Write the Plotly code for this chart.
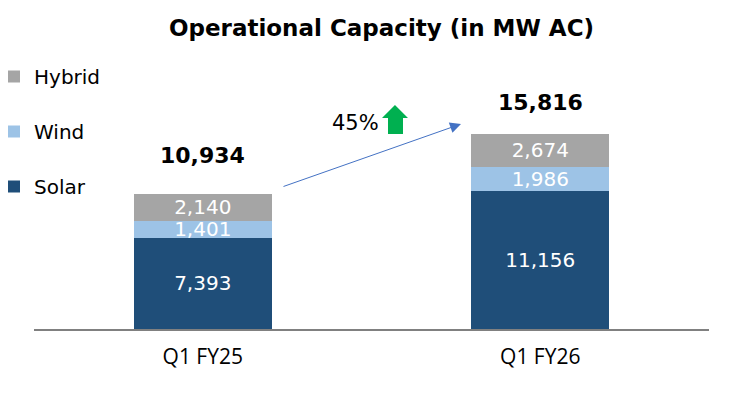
import plotly.graph_objects as go

# ---- data ----
categories = ["Q1 FY25", "Q1 FY26"]
solar = [7393, 11156]
wind = [1401, 1986]
hybrid = [2140, 2674]
totals = [10934, 15816]
growth_label = "45%"

# ---- layout geometry ----
W, H = 739, 397
ML, MR, MT, MB = 34, 30, 40, 68
PLOT_W = W - ML - MR
PLOT_H = H - MT - MB
Y_MAX = 23440

SOLAR_C = "#1F4E79"
WIND_C = "#9DC3E6"
HYBRID_C = "#A5A5A5"
ARROW_C = "#4472C4"
GREEN_C = "#00B050"
BASE_FONT = "DejaVu Sans"


def to_paper(px, py):
    return (px - ML) / PLOT_W, (H - MB - py) / PLOT_H


def fmt(v):
    return f"{v:,}"


fig = go.Figure()
series = [("Solar", solar, SOLAR_C, 3), ("Wind", wind, WIND_C, 2), ("Hybrid", hybrid, HYBRID_C, 1)]
for name, vals, col, rank in series:
    fig.add_trace(go.Bar(
        name=name, x=categories, y=vals, marker=dict(color=col, line=dict(width=0)),
        width=0.41, text=[fmt(v) for v in vals], textposition="inside",
        insidetextanchor="middle", textangle=0, constraintext="none",
        textfont=dict(family=BASE_FONT, size=20, color="white"),
        legendgroup=name, legendrank=rank, hoverinfo="skip",
    ))

annotations = []
# totals above bars
for cat, tot, ys in zip(categories, totals, [39, 32]):
    annotations.append(dict(
        x=cat, y=tot, xref="x", yref="y", text=f"<b>{fmt(tot)}</b>", showarrow=False,
        yanchor="middle", yshift=ys, font=dict(family=BASE_FONT, size=22, color="black"),
    ))

# growth arrow
tip_x, tip_y = to_paper(461, 124)
annotations.append(dict(
    x=tip_x, y=tip_y, xref="paper", yref="paper", ax=-179, ay=63,
    axref="pixel", ayref="pixel", showarrow=True, arrowhead=2, arrowsize=2.2,
    arrowwidth=1, arrowcolor=ARROW_C, text="",
))
# growth label
lx, ly = to_paper(381, 123)
annotations.append(dict(
    x=lx, y=ly, xref="paper", yref="paper", text=growth_label, showarrow=False,
    xanchor="right", yanchor="middle", font=dict(family=BASE_FONT, size=21, color="black"),
))

# green block arrow
pts = [(395, 105), (408, 118), (403, 118), (403, 134), (388, 134), (388, 118), (382, 118)]
pp = [to_paper(*p) for p in pts]
path = "M " + " L ".join(f"{x:.5f},{y:.5f}" for x, y in pp) + " Z"
shapes = [dict(type="path", xref="paper", yref="paper", path=path,
               fillcolor=GREEN_C, line=dict(width=0))]

leg_x, leg_y = to_paper(-6, 57)

fig.update_layout(
    width=W, height=H,
    margin=dict(l=ML, r=MR, t=MT, b=MB, pad=0, autoexpand=False),
    barmode="stack",
    paper_bgcolor="white", plot_bgcolor="white",
    title=dict(text="<b>Operational Capacity (in MW AC)</b>", xref="container", yref="container",
               x=381.5 / W, y=1 - 28 / H, xanchor="center", yanchor="middle",
               font=dict(family=BASE_FONT, size=23, color="black")),
    legend=dict(xref="paper", yref="paper", x=leg_x, y=leg_y,
                xanchor="left", yanchor="top", traceorder="grouped",
                tracegroupgap=26, font=dict(family=BASE_FONT, size=20, color="black"),
                bgcolor="rgba(0,0,0,0)"),
    xaxis=dict(range=[-0.5, 1.5], showline=True, linecolor="#808080", linewidth=2,
               ticks="", showgrid=False, zeroline=False, fixedrange=True,
               ticklabelstandoff=8,
               tickfont=dict(family="Open Sans", size=21, color="black")),
    yaxis=dict(range=[0, Y_MAX], visible=False, showgrid=False, zeroline=False, fixedrange=True),
    annotations=annotations, shapes=shapes,
    uniformtext=dict(minsize=20, mode="show"),
    showlegend=True,
)

fig.write_html("out.html")
